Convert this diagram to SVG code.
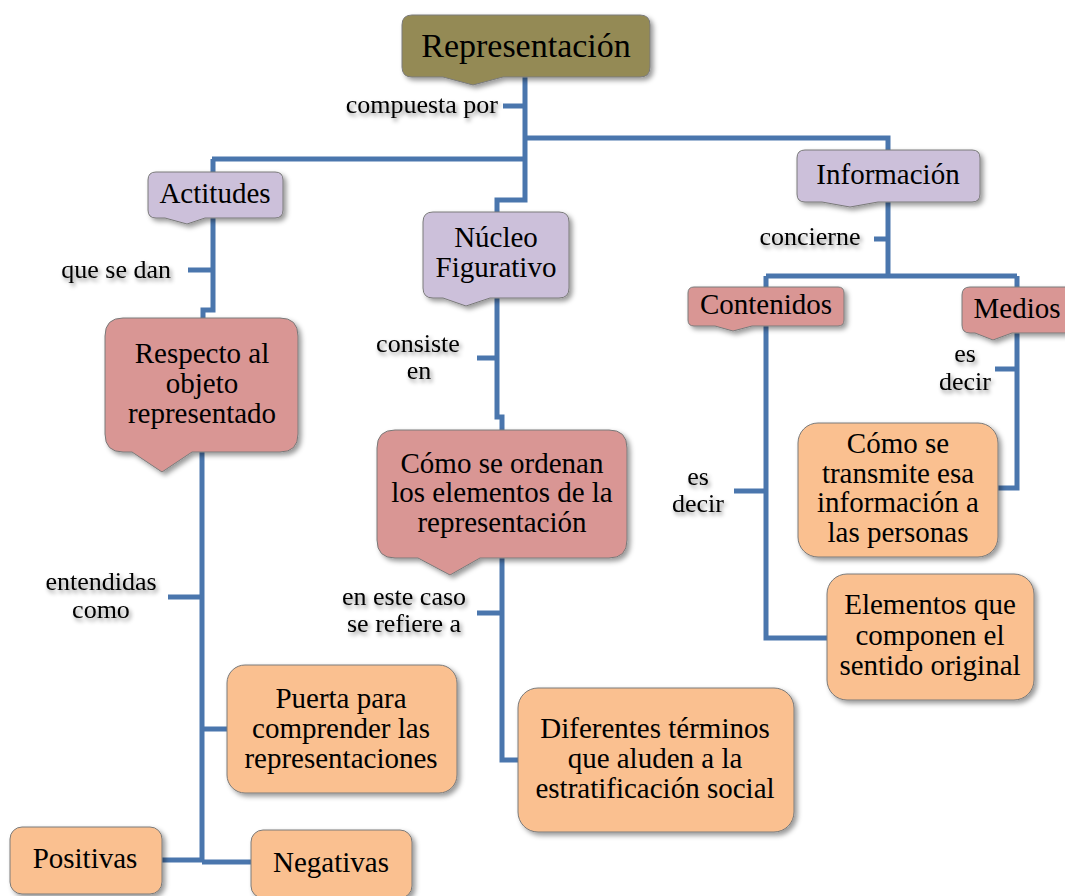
<svg xmlns="http://www.w3.org/2000/svg" width="1065" height="896" viewBox="0 0 1065 896" font-family="'Liberation Serif', Tinos, 'Times New Roman', 'DejaVu Serif', serif">
<defs>
<filter id="bs" x="-10%" y="-10%" width="130%" height="140%"><feDropShadow dx="3" dy="3" stdDeviation="2.5" flood-color="#000" flood-opacity="0.4"/></filter>
<filter id="ts" x="-10%" y="-30%" width="130%" height="170%"><feDropShadow dx="2" dy="3" stdDeviation="2" flood-color="#000" flood-opacity="0.45"/></filter>
<style>
.c{fill:none;stroke:#4a76ad;stroke-width:5}
.b{stroke:#7a7a7a;stroke-width:1;filter:url(#bs)}
.olive{fill:#948a54}
.lav{fill:#ccc0da}
.rose{fill:#d99694}
.org{fill:#fac090}
text{font-family:'Liberation Serif', Tinos, 'Times New Roman', 'DejaVu Serif', serif}
.t{font-size:29px;fill:#000;text-anchor:middle}
.l{font-size:26px;fill:#000;text-anchor:middle;filter:url(#ts)}
</style>
</defs>
<rect width="1065" height="896" fill="#fff"/>
<g id="connectors">
<path class="c" d="M525,77V159M503,106H525M525,138H888V152M212,159H525M213,159V310H203V320M188,270H213M525,159V200H497V214"/>
<path class="c" d="M497,298V417H502V432M477,358H497"/>
<path class="c" d="M202,452V862M168,597H202M202,729H229M162,860H202M202,862H253"/>
<path class="c" d="M502,558V760H520M477,613H502"/>
<path class="c" d="M888,202V276M874,239H888M766,276H1017M766,276V638H829M1017,276V488H996M734,491H766M995,369H1017"/>
</g>
<g id="n-representacion">
<path class="b olive" d="M412,15H640Q650,15 650,25V67Q650,77 640,77H503L473,85L443,77H412Q402,77 402,67V25Q402,15 412,15Z"/>
<text class="t" x="526" y="57" style="font-size:34px">Representación</text>
</g>
<g id="n-actitudes">
<path class="b lav" d="M156,172H275Q283,172 283,180V210Q283,218 275,218H205L187,224L165,218H156Q148,218 148,210V180Q148,172 156,172Z"/>
<text class="t" x="215" y="203">Actitudes</text>
</g>
<g id="n-nucleo">
<path class="b lav" d="M433,212H559Q569,212 569,222V288Q569,298 559,298H490L466,306L443,298H433Q423,298 423,288V222Q423,212 433,212Z"/>
<text class="t" x="496" y="247">Núcleo</text>
<text class="t" x="496" y="277">Figurativo</text>
</g>
<g id="n-informacion">
<path class="b lav" d="M805,150H972Q980,150 980,158V194Q980,202 972,202H878L850,207L822,202H805Q797,202 797,194V158Q797,150 805,150Z"/>
<text class="t" x="888" y="184">Información</text>
</g>
<g id="n-contenidos">
<path class="b rose" d="M694,287H838Q844,287 844,293V320Q844,326 838,326H752L733,331L715,326H694Q688,326 688,320V293Q688,287 694,287Z"/>
<text class="t" x="766" y="314">Contenidos</text>
</g>
<g id="n-medios">
<path class="b rose" d="M970,287H1072Q1080,287 1080,295V325Q1080,333 1072,333H1012L993,340L975,333H970Q962,333 962,325V295Q962,287 970,287Z"/>
<text class="t" x="1017" y="318">Medios</text>
</g>
<g id="n-respecto">
<path class="b rose" d="M123,318H280Q298,318 298,336V434Q298,452 280,452H192L162,472L132,452H123Q105,452 105,434V336Q105,318 123,318Z"/>
<text class="t" x="202" y="363">Respecto al</text>
<text class="t" x="202" y="393">objeto</text>
<text class="t" x="202" y="423">representado</text>
</g>
<g id="n-como-ordenan">
<path class="b rose" d="M395,430H609Q627,430 627,448V540Q627,558 609,558H480L450,575L418,558H395Q377,558 377,540V448Q377,430 395,430Z"/>
<text class="t" x="502" y="473">Cómo se ordenan</text>
<text class="t" x="502" y="502">los elementos de la</text>
<text class="t" x="502" y="532">representación</text>
</g>
<g id="n-puerta">
<rect class="b org" x="227" y="665" width="230" height="128" rx="18"/>
<text class="t" x="341" y="708">Puerta para</text>
<text class="t" x="341" y="738">comprender las</text>
<text class="t" x="341" y="768">representaciones</text>
</g>
<g id="n-positivas">
<rect class="b org" x="10" y="827" width="152" height="67" rx="12"/>
<text class="t" x="85" y="868">Positivas</text>
</g>
<g id="n-negativas">
<rect class="b org" x="251" y="830" width="161" height="68" rx="12"/>
<text class="t" x="331" y="872">Negativas</text>
</g>
<g id="n-diferentes">
<rect class="b org" x="518" y="688" width="276" height="144" rx="20"/>
<text class="t" x="655" y="738">Diferentes términos</text>
<text class="t" x="655" y="768">que aluden a la</text>
<text class="t" x="655" y="798">estratificación social</text>
</g>
<g id="n-como-transmite">
<rect class="b org" x="798" y="423" width="200" height="134" rx="20"/>
<text class="t" x="898" y="453">Cómo se</text>
<text class="t" x="898" y="483">transmite esa</text>
<text class="t" x="898" y="512">información a</text>
<text class="t" x="898" y="542">las personas</text>
</g>
<g id="n-elementos">
<rect class="b org" x="827" y="574" width="207" height="126" rx="20"/>
<text class="t" x="930" y="614">Elementos que</text>
<text class="t" x="930" y="645">componen el</text>
<text class="t" x="930" y="675">sentido original</text>
</g>
<g id="labels">
<text class="l" x="498" y="113" style="text-anchor:end">compuesta por</text>
<text class="l" x="171" y="278" style="text-anchor:end">que se dan</text>
<text class="l" x="418" y="352">consiste</text>
<text class="l" x="419" y="379">en</text>
<text class="l" x="101" y="590">entendidas</text>
<text class="l" x="101" y="618">como</text>
<text class="l" x="404" y="605">en este caso</text>
<text class="l" x="404" y="632">se refiere a</text>
<text class="l" x="810" y="245">concierne</text>
<text class="l" x="698" y="485">es</text>
<text class="l" x="698" y="512">decir</text>
<text class="l" x="965" y="362">es</text>
<text class="l" x="965" y="390">decir</text>
</g>
</svg>
